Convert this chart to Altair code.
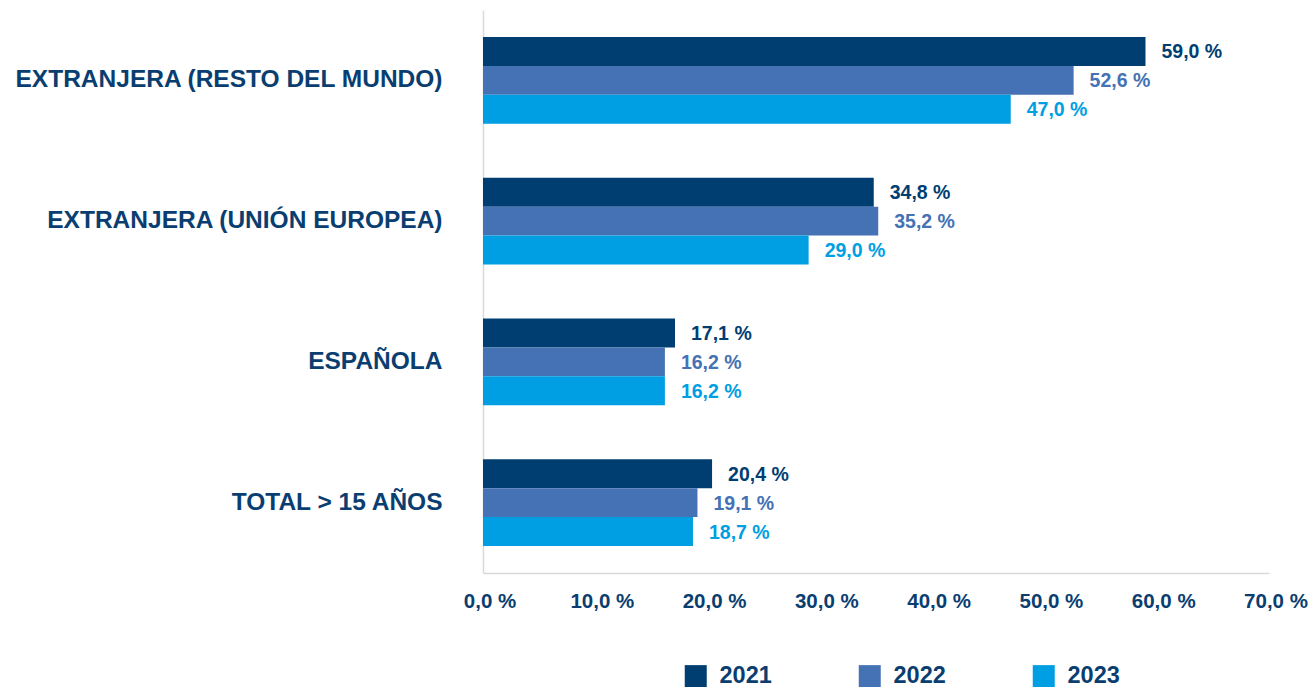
import altair as alt
import pandas as pd

categories = ["EXTRANJERA (RESTO DEL MUNDO)", "EXTRANJERA (UNIÓN EUROPEA)", "ESPAÑOLA", "TOTAL > 15 AÑOS\u00a0"]
years = ["2021", "2022", "2023"]
v2021 = [59.0, 34.8, 17.1, 20.4]
v2022 = [52.6, 35.2, 16.2, 19.1]
v2023 = [47.0, 29.0, 16.2, 18.7]
colors = ["#003e72", "#4472b4", "#009fe3"]
x_ticks = [0, 10, 20, 30, 40, 50, 60, 70]

NAVY = "#0b3e70"
FONT = "Liberation Sans"

rows = []
for yr, vals in zip(years, [v2021, v2022, v2023]):
    for c, v in zip(categories, vals):
        rows.append({"cat": c, "year": yr, "value": v,
                     "label": f"{v:.1f}".replace(".", ",") + " %"})
df = pd.DataFrame(rows)

y = alt.Y("cat:N", sort=categories,
          scale=alt.Scale(paddingInner=0.382, paddingOuter=0.191),
          axis=alt.Axis(title=None, labelFont=FONT, labelFontSize=24.5, labelFontWeight="bold",
                        labelColor=NAVY, labelPadding=41, ticks=False,
                        domainColor="#d9d9d9", domainWidth=1.5, labelLimit=600))
yoff = alt.YOffset("year:N", sort=years, scale=alt.Scale(paddingInner=0, paddingOuter=0))
x = alt.X("value:Q", scale=alt.Scale(domain=[0, 70], nice=False),
          axis=alt.Axis(values=x_ticks, title=None, grid=False, ticks=False,
                        domainColor="#d9d9d9", domainWidth=1.5,
                        labelExpr="replace(format(datum.value, '.1f'), '.', ',') + ' %'",
                        labelFont=FONT, labelFontSize=20.5, labelFontWeight="bold",
                        labelColor=NAVY, labelPadding=18, labelOffset=6.5,
                        labelFlush=False, labelOverlap=False))
color_scale = alt.Scale(domain=years, range=colors)

bars = alt.Chart(df).mark_bar().encode(
    x=x, y=y, yOffset=yoff,
    color=alt.Color("year:N", sort=years, scale=color_scale,
                    legend=alt.Legend(title=None, orient="none", legendX=201, legendY=654,
                                      direction="horizontal", symbolType="square",
                                      symbolSize=484, symbolStrokeWidth=0, symbolOpacity=1,
                                      labelFont=FONT, labelFontSize=23.5, labelFontWeight="bold",
                                      labelColor=NAVY, labelOffset=12, columnPadding=86,
                                      padding=0)),
)

labels = alt.Chart(df).mark_text(align="left", baseline="middle", dx=16, dy=1, font=FONT,
                                 fontSize=19.5, fontWeight="bold").encode(
    x="value:Q", y=alt.Y("cat:N", sort=categories), yOffset=yoff,
    text="label:N",
    color=alt.Color("year:N", sort=years, scale=color_scale, legend=None),
)

chart = (bars + labels).properties(
    width=786, height=563,
    autosize=alt.AutoSizeParams(type="none"),
    padding={"left": 475, "top": 2, "right": 39, "bottom": 114},
).configure_view(stroke=None)

chart.save("out.html", embed_options={"renderer": "svg", "actions": False})
